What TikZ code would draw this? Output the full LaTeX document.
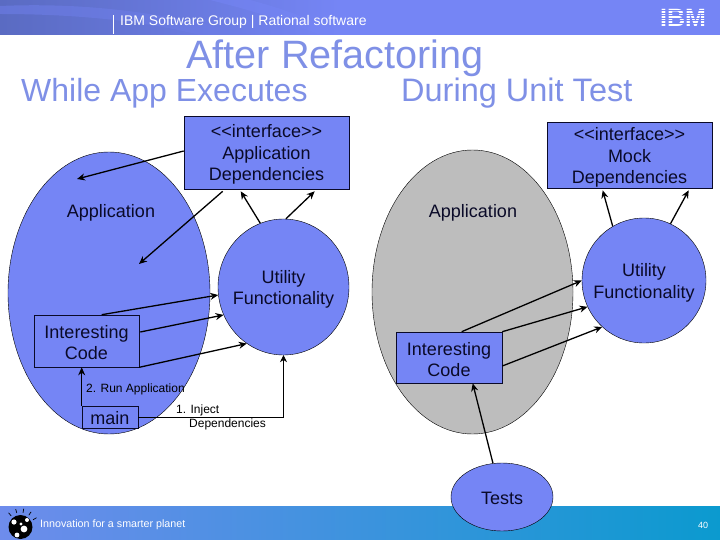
\documentclass[tikz,border=0pt]{standalone}
\usepackage{fontspec}
\setmainfont{Liberation Sans}
\usepackage{xcolor}
\usetikzlibrary{positioning,arrows.meta,calc,shapes.geometric}
\definecolor{cperi}{HTML}{7585F5}
\definecolor{cperid}{HTML}{5A6BC2}
\definecolor{ctitle}{HTML}{7F90E6}
\definecolor{cgrisf}{HTML}{BDBDBD}
\definecolor{cpie}{HTML}{6E8CEC}
\definecolor{cpied}{HTML}{0B9ACF}
\definecolor{ctinta}{HTML}{0A0A28}
\tikzset{
  caja/.style={rectangle, draw=ctinta, fill=cperi, inner sep=0pt, semithick},
  bola/.style={ellipse, draw=black, fill=cperi, inner sep=0pt},
  flecha/.style={-{Stealth[length=8pt,width=7pt]}, line width=1.3pt, draw=black},
  linea/.style={-{Stealth[length=7pt,width=7pt]}, line width=.7pt, draw=black},
  etq/.style={font=\fontsize{18}{21.4}\selectfont, text=ctinta, inner sep=0pt, align=center},
  etqc/.style={font=\fontsize{12}{14}\selectfont, text=black, inner sep=0pt, align=left},
  titulo/.style={text=ctitle, inner sep=0pt},
}
\begin{document}
\begin{tikzpicture}[x=1pt, y=-1pt]
  \useasboundingbox (0,0) rectangle (720,540);
  % bands
  \fill[cperi] (0,0) rectangle (720,35);
  \fill[left color=cperid, right color=cperi] (0,0) rectangle (340,35);
  \fill[cperi!70!cperid, opacity=.6] (0,6) .. controls (90,2) and (170,14) .. (250,35) -- (200,35) .. controls (140,20) and (70,14) .. (0,14) -- cycle;
  \fill[cperi, opacity=.5] (210,0) .. controls (250,10) and (290,22) .. (320,35) -- (345,35) .. controls (310,18) and (280,8) .. (250,0) -- cycle;
  \fill[left color=cpie, right color=cpied] (0,506) rectangle (720,540);
  \draw[white, line width=.7pt] (113,15) -- (113,34);
  \node[anchor=west, text=white, inner sep=0pt, font=\fontsize{14}{16}\selectfont] (grupo) at (120,22) {IBM Software Group | Rational software};
  \node[text=white, inner sep=0pt, font=\fontsize{25}{25}\selectfont\bfseries\rmfamily] (logo) at (683,17.5) {IBM};
  \foreach \y in {10.5,13,15.5,18,20.5,23}
    \draw[cperi, line width=.7pt] (655,\y) -- (711,\y);
  \node[anchor=west, text=white, inner sep=0pt, font=\fontsize{10.7}{12}\selectfont] (lema) at (40,525) {Innovation for a smarter planet};
  \node[text=white, inner sep=0pt, font=\fontsize{9}{10}\selectfont] (pagina) at (703,525.5) {40};
  % globe
  \fill[black] (20.5,527) circle (12);
  \fill[white] (14,522) circle (2.6) (24,529) circle (3.4) (27,520) circle (2) (17,535) circle (2.4) (21,524) circle (1.6);
  \foreach \a in {100,125,150,75,50}
    \draw[black, line width=.7pt] ($(20.5,527)+(\a:-14.5)$) -- ($(20.5,527)+(\a:-18.5)$);
  % titles
  \node[titulo, font=\fontsize{39.6}{40}\selectfont] (titulo) at (335,58.5) {After Refactoring};
  \node[titulo, font=\fontsize{32}{32}\selectfont, anchor=west] (izq) at (21,93) {While App Executes};
  \node[titulo, font=\fontsize{32.5}{32}\selectfont, anchor=west] (der) at (401,93) {During Unit Test};
  % left side
  \node[bola, minimum width=202pt, minimum height=282pt] (app) at (109,293) {};
  \node[etq] (appl) at (111,213) {Application};
  \node[bola, minimum width=131pt, minimum height=136pt] (util) at (283.5,287) {};
  \node[etq] (utill) at (283.5,289.5) {Utility\\Functionality};
  \node[caja, minimum width=165pt, minimum height=73pt] (deps) at (266.5,152.5) {};
  \node[etq] (depsl) at (266.5,154.5) {{<}{<}interface{>}{>}\\Application\\Dependencies};
  \node[caja, minimum width=105pt, minimum height=52pt] (code) at (86.5,341) {};
  \node[etq] (codel) at (86.5,342.5) {Interesting\\Code};
  \node[caja, minimum width=56pt, minimum height=22pt] (main) at (110,417) {};
  \node[etq] (mainl) at (110,418) {main};
  \node[etqc, anchor=west] (run) at (86,389) {2. Run Application};
  \node[etqc, anchor=west] (iny1) at (176,410) {1. Inject};
  \node[etqc, anchor=west] (iny2) at (189,424) {Dependencies};
  \coordinate (d1) at (77,179);
  \coordinate (d2) at (139,264);
  \draw[flecha] ([yshift=1.5pt]deps.west) -- (d1);
  \draw[flecha] ($(deps.south west)+(39,2)$) -- (d2);
  \draw[flecha] (util.110) -- ($(deps.south west)+(57,2)$);
  \draw[flecha] (util.88) -- ($(deps.south west)+(131,2)$);
  \draw[flecha] ($(code.north west)+(68,0)$) -- (util.187);
  \draw[flecha] ($(code.east)+(1,-9)$) -- (util.205);
  \draw[flecha] (code.south east) -- (util.237);
  \draw[flecha] (main.north west) -- (main.north west |- code.south);
  \draw[linea] (main.east) -| (util.south);
  % right side
  \node[bola, fill=cgrisf, minimum width=201pt, minimum height=284pt] (appb) at (472.5,292) {};
  \node[etq] (applb) at (473,213) {Application};
  \node[bola, minimum width=124pt, minimum height=125pt] (utilb) at (644,280.5) {};
  \node[etq] (utilbl) at (644,283) {Utility\\Functionality};
  \node[caja, minimum width=165pt, minimum height=66pt] (mock) at (629.5,155) {};
  \node[etq] (mockl) at (629.5,157.5) {{<}{<}interface{>}{>}\\Mock\\Dependencies};
  \node[caja, minimum width=106pt, minimum height=51pt] (codeb) at (449,357.5) {};
  \node[etq] (codebl) at (449,359.5) {Interesting\\Code};
  \node[bola, minimum width=102pt, minimum height=68pt] (tests) at (502,497) {};
  \node[etq] (testsl) at (502,498) {Tests};
  \draw[flecha] (utilb.120) -- ($(mock.south west)+(56,2)$);
  \draw[flecha] (utilb.65) -- ($(mock.south west)+(142,2)$);
  \draw[flecha] ($(codeb.north west)+(66,0)$) -- (utilb.180);
  \draw[flecha] (codeb.north east) -- (utilb.205);
  \draw[flecha] ($(codeb.east)+(0,8.5)$) -- (utilb.228);
  \draw[flecha] (tests.105) -- ($(codeb.south west)+(77,0)$);
\end{tikzpicture}
\end{document}
